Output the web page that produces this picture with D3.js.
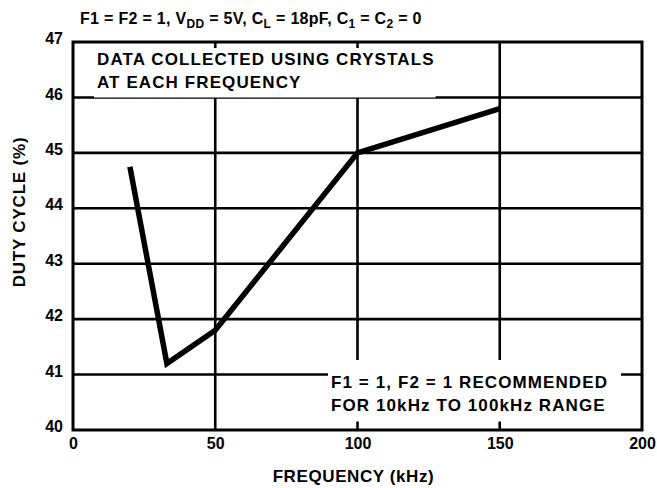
<!DOCTYPE html>
<html>
<head>
<meta charset="utf-8">
<script src="https://cdn.jsdelivr.net/npm/d3@7"></script>
<style>
  body { margin: 0; background: #fff; }
  svg { display: block; font-family: "Liberation Sans", Arial, sans-serif; font-weight: bold; }
</style>
</head>
<body>
<div id="chart"></div>
<script>
const freqs = [20, 33, 50, 100, 150];
const duty = [44.75, 41.2, 41.8, 45, 45.8];
const xTicks = [0, 50, 100, 150, 200];
const yTicks = [40, 41, 42, 43, 44, 45, 46, 47];
const xGrid = [50, 100, 150];
const yGrid = [41, 42, 43, 44, 45, 46];
const noteTop = ["DATA COLLECTED USING CRYSTALS", "AT EACH FREQUENCY"];
const noteBottom = ["F1 = 1, F2 = 1 RECOMMENDED", "FOR 10kHz TO 100kHz RANGE"];

const width = 657;
const height = 488;
const margin = { top: 42, right: 15, bottom: 58, left: 73 };

const svg = d3.select("#chart").append("svg")
  .attr("width", width)
  .attr("height", height);

const x = d3.scaleLinear().domain([0, 200]).range([margin.left, width - margin.right]);
const y = d3.scaleLinear().domain([40, 47]).range([height - margin.bottom, margin.top]);

// grid
svg.append("g")
  .selectAll("line")
  .data(yGrid)
  .join("line")
  .attr("x1", x(0)).attr("x2", x(200))
  .attr("y1", d => y(d)).attr("y2", d => y(d))
  .attr("stroke", "#000").attr("stroke-width", 2.6);

svg.append("g")
  .selectAll("line")
  .data(xGrid)
  .join("line")
  .attr("x1", d => x(d)).attr("x2", d => x(d))
  .attr("y1", y(47)).attr("y2", y(40))
  .attr("stroke", "#000").attr("stroke-width", 2.6);

// notes, each on a white box that hides the grid behind it
function note(lines, tx, ty, padL, padR, padT, padB) {
  const g = svg.append("g");
  const bg = g.append("rect").attr("fill", "#fff");
  const t = g.append("text")
    .attr("font-size", 17)
    .attr("letter-spacing", 1.1)
    .attr("fill", "#000");
  lines.forEach((s, i) => {
    t.append("tspan").attr("x", tx).attr("y", ty + i * 22.5).text(s);
  });
  const b = t.node().getBBox();
  bg.attr("x", b.x - padL).attr("y", b.y - padT)
    .attr("width", b.width + padL + padR)
    .attr("height", b.height + padT + padB);
}
note(noteTop, 97, 65, 3, 1, 20, 6);
note(noteBottom, 331, 388, 3, 13, 13, 7);

// top ticks
svg.append("g")
  .selectAll("line")
  .data([50, 100])
  .join("line")
  .attr("x1", d => x(d)).attr("x2", d => x(d))
  .attr("y1", y(47)).attr("y2", y(47) + 6)
  .attr("stroke", "#000").attr("stroke-width", 2.6);

// data line
svg.append("path")
  .datum(freqs.map((f, i) => [f, duty[i]]))
  .attr("fill", "none")
  .attr("stroke", "#000")
  .attr("stroke-width", 5.5)
  .attr("stroke-linejoin", "miter")
  .attr("d", d3.line().x(d => x(d[0])).y(d => y(d[1])));

// frame
svg.append("rect")
  .attr("x", x(0)).attr("y", y(47))
  .attr("width", x(200) - x(0)).attr("height", y(40) - y(47))
  .attr("fill", "none").attr("stroke", "#000").attr("stroke-width", 3);

// axes
const xAxis = svg.append("g")
  .attr("transform", `translate(0, ${y(40)})`)
  .call(d3.axisBottom(x).tickValues(xTicks).tickFormat(d3.format("d")).tickSize(0).tickPadding(8));
const yAxis = svg.append("g")
  .attr("transform", `translate(${x(0)}, 0)`)
  .call(d3.axisLeft(y).tickValues(yTicks).tickFormat(d3.format("d")).tickSize(0).tickPadding(10));
[xAxis, yAxis].forEach(a => {
  a.select(".domain").remove();
  a.selectAll("text")
    .attr("font-family", "Liberation Sans, Arial, sans-serif")
    .attr("font-weight", "bold")
    .attr("font-size", 16)
    .attr("fill", "#000");
});
yAxis.selectAll("text").attr("dy", "0.1em");

// axis titles
svg.append("text")
  .attr("x", (x(0) + x(200)) / 2 - 4)
  .attr("y", 482)
  .attr("text-anchor", "middle")
  .attr("font-size", 17)
  .attr("letter-spacing", 0.6)
  .text("FREQUENCY (kHz)");

svg.append("text")
  .attr("transform", `translate(25, ${(y(40) + y(47)) / 2 - 24}) rotate(-90)`)
  .attr("text-anchor", "middle")
  .attr("font-size", 17)
  .attr("letter-spacing", 0.8)
  .text("DUTY CYCLE (%)");

// heading with subscripts
const parts = [
  ["F1 = F2 = 1, V", false], ["DD", true], [" = 5V, C", false], ["L", true],
  [" = 18pF, C", false], ["1", true], [" = C", false], ["2", true], [" = 0", false]
];
const head = svg.append("text")
  .attr("x", 80)
  .attr("y", 24)
  .attr("font-size", 16)
  .attr("letter-spacing", 0.3);
parts.forEach(([s, sub], i) => {
  const ts = head.append("tspan").text(s);
  if (sub) ts.attr("font-size", 12).attr("dy", 4);
  else if (i > 0) ts.attr("dy", -4);
});
</script>
</body>
</html>
